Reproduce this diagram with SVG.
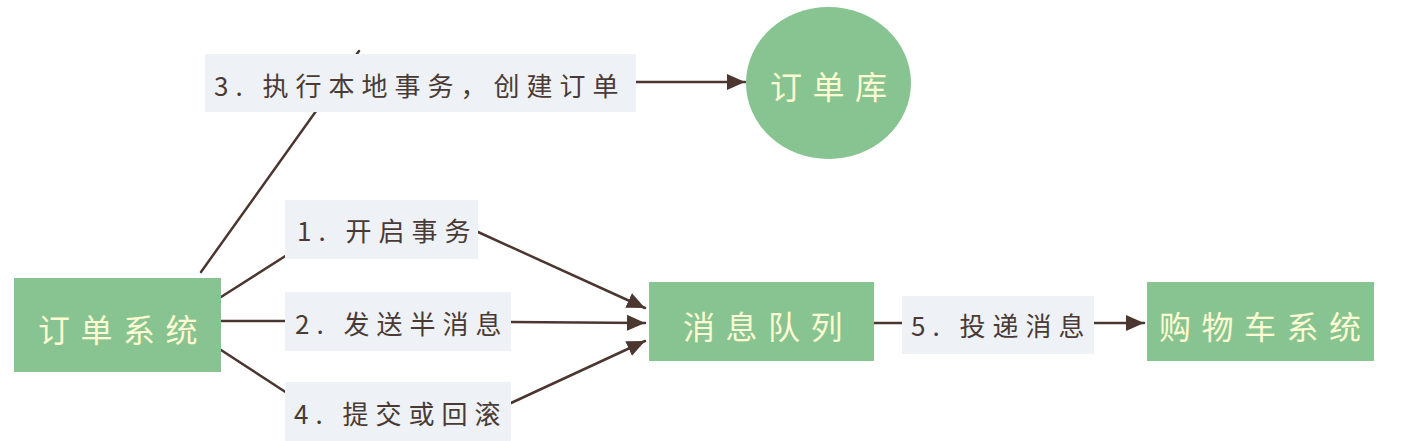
<svg xmlns="http://www.w3.org/2000/svg" width="1410" height="441" viewBox="0 0 1410 441">
<defs>
<style>
.node{fill:#87c491;}
.ntext{font-family:"Noto Sans CJK SC","Noto Sans",sans-serif;font-size:32px;letter-spacing:10.5px;fill:#fffbd2;}
.lbl{fill:#eef2f6;}
.ltext{font-family:"Noto Sans CJK SC","Noto Sans",sans-serif;font-size:26px;letter-spacing:7px;fill:#4a3a35;}
.edge{fill:none;stroke:#4b3630;stroke-width:2.5;stroke-linecap:round;}
</style>
<marker id="arr" markerUnits="userSpaceOnUse" markerWidth="20" markerHeight="20" viewBox="0 0 20 20" refX="18" refY="10" orient="auto">
<path d="M0,2 L18,10 L0,18 Z" fill="#4b3630"/>
</marker>
</defs>
<rect width="1410" height="441" fill="#ffffff"/>
<g id="connectors">
<line class="edge" x1="201" y1="272" x2="359" y2="51"/>
<line class="edge" x1="636" y1="82" x2="745" y2="82" marker-end="url(#arr)"/>
<line class="edge" x1="221" y1="297" x2="287" y2="255"/>
<line class="edge" x1="478" y1="232" x2="645" y2="308" marker-end="url(#arr)"/>
<line class="edge" x1="221" y1="321" x2="287" y2="321"/>
<line class="edge" x1="511" y1="322" x2="645" y2="323" marker-end="url(#arr)"/>
<line class="edge" x1="221" y1="350" x2="287" y2="393"/>
<line class="edge" x1="511" y1="403" x2="645" y2="341" marker-end="url(#arr)"/>
<line class="edge" x1="874" y1="323" x2="902" y2="323"/>
<line class="edge" x1="1094" y1="323" x2="1144" y2="323" marker-end="url(#arr)"/>
</g>
<g id="label3">
<rect class="lbl" x="205" y="54" width="431" height="58"/>
<text class="ltext" x="214" y="96">3. 执行本地事务，创建订单</text>
</g>
<g id="label1">
<rect class="lbl" x="285" y="200" width="193" height="59"/>
<text class="ltext" x="297" y="241">1. 开启事务</text>
</g>
<g id="label2">
<rect class="lbl" x="285" y="292" width="226" height="59"/>
<text class="ltext" x="295" y="334">2. 发送半消息</text>
</g>
<g id="label4">
<rect class="lbl" x="285" y="382" width="226" height="59"/>
<text class="ltext" x="294" y="424">4. 提交或回滚</text>
</g>
<g id="label5">
<rect class="lbl" x="902" y="296" width="192" height="58"/>
<text class="ltext" x="911" y="336">5. 投递消息</text>
</g>
<g id="order-system">
<rect class="node" x="14" y="278" width="207" height="94"/>
<text class="ntext" x="38" y="342">订单系统</text>
</g>
<g id="order-db">
<ellipse class="node" cx="828.5" cy="83" rx="82.5" ry="76"/>
<text class="ntext" x="770" y="99">订单库</text>
</g>
<g id="mq">
<rect class="node" x="649" y="282" width="225" height="79"/>
<text class="ntext" x="683" y="339">消息队列</text>
</g>
<g id="cart-system">
<rect class="node" x="1147" y="282" width="227" height="79"/>
<text class="ntext" x="1159" y="339">购物车系统</text>
</g>
</svg>
